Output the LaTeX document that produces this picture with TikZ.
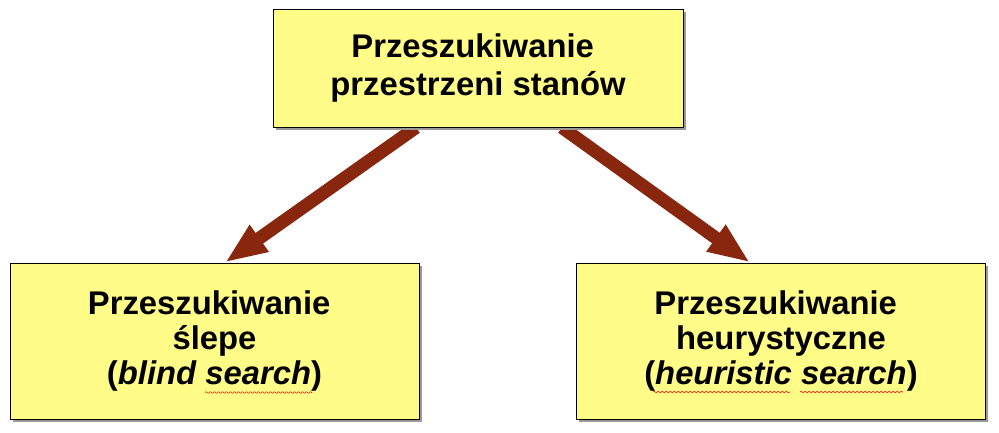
\documentclass[tikz,border=0pt]{standalone}
\usepackage{fontspec}
\setmainfont{Liberation Sans}
\usetikzlibrary{arrows.meta,shadows,backgrounds,decorations.pathmorphing}
\definecolor{boxfill}{RGB}{255,252,135}
\definecolor{arrowred}{RGB}{137,38,14}
\newcommand{\trail}{\hspace*{8pt}}
\tikzset{
  topic/.style={draw=black, line width=0.75pt, fill=boxfill, align=center, inner sep=0pt,
    font=\fontsize{24.6pt}{28.5pt}\selectfont\bfseries,
    drop shadow={shadow xshift=2pt, shadow yshift=-2pt, fill=gray!80, opacity=1}},
  method/.style={topic, minimum width=306.75pt, minimum height=117pt,
    font=\fontsize{24.6pt}{26.6pt}\selectfont\bfseries},
  branch/.style={arrowred, line width=9.75pt, -{Triangle[width=22.5pt,length=31.5pt]}},
  spellmark/.style={red, line width=0.4pt, decorate, decoration={snake, amplitude=0.6pt, segment length=3pt}}
}

\begin{document}
\begin{tikzpicture}[x=0.75pt, y=-0.75pt]
  \useasboundingbox (0,0) rectangle (999,432);

  \node[topic, minimum width=307.5pt, minimum height=88.5pt] (top) at (478,68)
    {Przeszukiwanie\trail\\przestrzeni stanów};
  \node[method] (blind) at (214.5,341)
    {Przeszukiwanie\trail\\ślepe\trail\\(\textit{blind search})};
  \node[method] (heur) at (781,341)
    {Przeszukiwanie\trail\\heurystyczne\trail\\(\textit{heuristic search})};

  \begin{pgfonlayer}{background}
    \draw[branch] ([xshift=-46.5pt]top.south) -- ([xshift=7.9pt]blind.north);
    \draw[branch] ([xshift=63pt]top.south) -- ([xshift=-23.25pt]heur.north);
  \end{pgfonlayer}

  % spelling marks under the english words
  \draw[spellmark] ([shift={(-9.5,51.5)}]blind.center) -- ([shift={(97.5,51.5)}]blind.center);
  \draw[spellmark] ([shift={(-128,51)}]heur.center) -- ([shift={(9,51)}]heur.center);
  \draw[spellmark] ([shift={(19,51)}]heur.center) -- ([shift={(122,51)}]heur.center);
\end{tikzpicture}
\end{document}
